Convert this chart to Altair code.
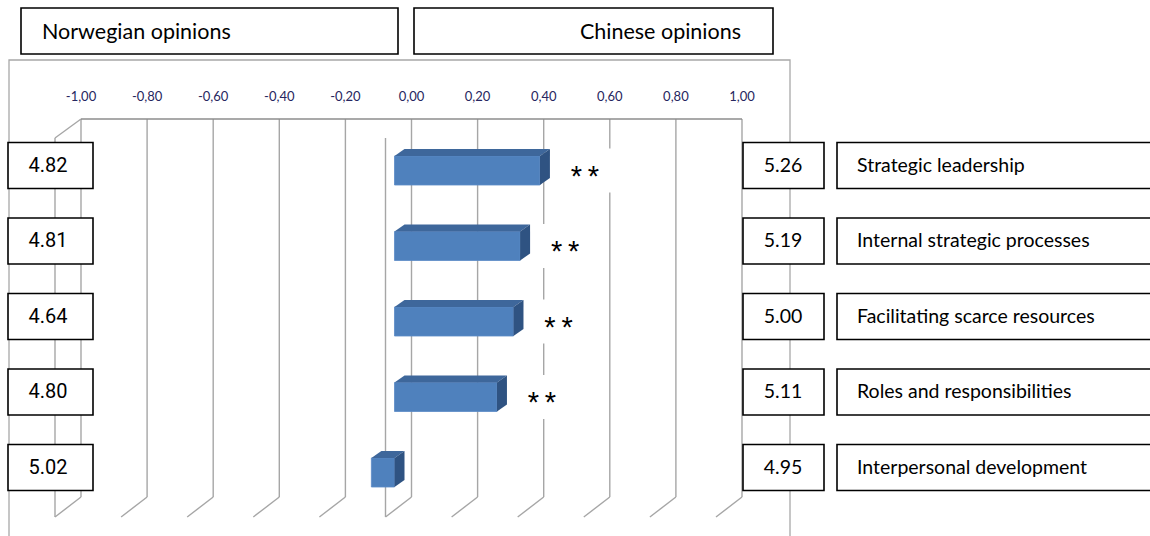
import altair as alt
import pandas as pd

# ---- data -----------------------------------------------------------------
categories = [
    "Strategic leadership",
    "Internal strategic processes",
    "Facilitating scarce resources",
    "Roles and responsibilities",
    "Interpersonal development",
]
norwegian = [4.82, 4.81, 4.64, 4.80, 5.02]
chinese = [5.26, 5.19, 5.00, 5.11, 4.95]
significance = ["*\u2009*", "*\u2009*", "*\u2009*", "*\u2009*", ""]

tick_values = [-1.0, -0.8, -0.6, -0.4, -0.2, 0.0, 0.2, 0.4, 0.6, 0.8, 1.0]
tick_labels = ["-1,00", "-0,80", "-0,60", "-0,40", "-0,20", "0,00",
               "0,20", "0,40", "0,60", "0,80", "1,00"]

# ---- layout helpers ---------------------------------------------------------
X_RANGE = [81, 742]          # back wall: -1 .. 1
Y_RANGE = [170.5, 472.5]     # row 0 .. row 4
PX = 2 / (X_RANGE[1] - X_RANGE[0])   # x units per pixel
PY = 4 / (Y_RANGE[1] - Y_RANGE[0])   # row units per pixel
FRONT = -17 * PX             # bars sit in front of the back wall
DEPTH_X, DEPTH_Y = 10 * PX, 7 * PY
HALF_H = 14.5 * PY

X = lambda f: alt.X(f, type="quantitative", axis=None,
                    scale=alt.Scale(domain=[-1, 1], range=X_RANGE, nice=False, zero=False))
Y = lambda f: alt.Y(f, type="quantitative", axis=None,
                    scale=alt.Scale(domain=[0, 4], range=Y_RANGE, nice=False, zero=False))

rows = []
for i, (c, n, z, s) in enumerate(zip(categories, norwegian, chinese, significance)):
    d = round(z - n, 2)
    rows.append(dict(cat=c, row=i, nor=f"{n:.2f}", chi=f"{z:.2f}", sig=s, diff=d,
                     lo=min(d, 0) + FRONT, hi=max(d, 0) + FRONT,
                     top=i - HALF_H, bot=i + HALF_H))
bars = pd.DataFrame(rows)

top_face = pd.concat([
    pd.DataFrame(dict(cat=bars.cat, y=bars.top, x=bars.lo, x2=bars.hi)),
    pd.DataFrame(dict(cat=bars.cat, y=bars.top - DEPTH_Y,
                      x=bars.lo + DEPTH_X, x2=bars.hi + DEPTH_X)),
])
side_face = pd.concat([
    pd.DataFrame(dict(cat=bars.cat, x=bars.hi, y=bars.bot, y2=bars.top)),
    pd.DataFrame(dict(cat=bars.cat, x=bars.hi + DEPTH_X,
                      y=bars.bot - DEPTH_Y, y2=bars.top - DEPTH_Y)),
])
stars = bars[bars.sig != ""].copy()
stars["sx"] = stars.hi + 45 * PX
stars["bx"] = stars.hi + 12 * PX
stars["bx2"] = stars.hi + 75 * PX
stars["by"] = stars.row - 22 * PY
stars["by2"] = stars.row + 22 * PY

ticks = pd.DataFrame(dict(t=tick_values, label=tick_labels))
one = pd.DataFrame(dict(a=[0]))

GRID = "#A6A6A6"
LABEL_FONT = "Lato"

# ---- frame and headings -----------------------------------------------------
frame = alt.Chart(one).mark_rect(fill="white", stroke="#A8A8A8", strokeWidth=1.3).encode(
    x=alt.value(9), x2=alt.value(790), y=alt.value(60), y2=alt.value(600))

head_df = pd.DataFrame(dict(name=["Norwegian opinions", "Chinese opinions"],
                            x0=[21, 414], x1=[398, 773]))
head_box = alt.Chart(head_df).mark_rect(fill="white", stroke="black", strokeWidth=1.6).encode(
    x=alt.X("x0:Q", scale=None), x2="x1:Q", y=alt.value(8), y2=alt.value(54))
head_nor = alt.Chart(head_df.iloc[[0]]).mark_text(
    font=LABEL_FONT, fontSize=21.5, align="left", baseline="middle", color="black").encode(
    x=alt.value(42), y=alt.value(33), text="name:N")
head_chi = alt.Chart(head_df.iloc[[1]]).mark_text(
    font=LABEL_FONT, fontSize=21.5, align="right", baseline="middle", color="black").encode(
    x=alt.value(741), y=alt.value(33), text="name:N")

# ---- 3-D walls and gridlines ------------------------------------------------
back_grid = alt.Chart(ticks).mark_rule(color=GRID, strokeWidth=1.4).encode(
    x=X("t"), y=alt.value(119), y2=alt.value(497))
floor_diag = alt.Chart(ticks).mark_rule(color=GRID, strokeWidth=1.4, x2Offset=-26).encode(
    x=X("t"), x2="t:Q", y=alt.value(497), y2=alt.value(517))
front_lines = alt.Chart(pd.DataFrame(dict(t=[-1.0, 0.0]))).mark_rule(
    color=GRID, strokeWidth=1.4, xOffset=-26).encode(
    x=X("t"), y=alt.value(138), y2=alt.value(517))
top_diag = alt.Chart(pd.DataFrame(dict(t=[-1.0]))).mark_rule(
    color=GRID, strokeWidth=1.4, x2Offset=-26).encode(
    x=X("t"), x2="t:Q", y=alt.value(119), y2=alt.value(138))
axis_line = alt.Chart(pd.DataFrame(dict(t0=[-1.0], t1=[1.0]))).mark_rule(
    color="#8C8C8C", strokeWidth=1.4).encode(
    x=X("t0"), x2="t1:Q", y=alt.value(119))
tick_text = alt.Chart(ticks).mark_text(
    font=LABEL_FONT, fontSize=13, color="#262660", baseline="middle").encode(
    x=X("t"), y=alt.value(97), text="label:N")

# ---- bars ---------------------------------------------------------------------
star_box = alt.Chart(stars).mark_rect(fill="white").encode(
    x=X("bx"), x2="bx2:Q", y=Y("by"), y2="by2:Q")
front = alt.Chart(bars).mark_rect(color="#4F81BD", stroke="#5A8AC6", strokeWidth=0.8).encode(
    x=X("lo"), x2="hi:Q", y=Y("top"), y2="bot:Q")
top = alt.Chart(top_face).mark_area(orient="horizontal", color="#3E679B").encode(
    y=Y("y"), x=X("x"), x2="x2:Q", detail="cat:N")
side = alt.Chart(side_face).mark_area(orient="vertical", color="#2F5382").encode(
    x=X("x"), y=Y("y"), y2="y2:Q", detail="cat:N")
star_text = alt.Chart(stars).mark_text(
    font="Liberation Sans", fontSize=29, color="black", baseline="middle", dy=6).encode(
    x=X("sx"), y=Y("row"), text="sig:N")

# ---- value and label boxes -------------------------------------------------
box_style = dict(fill="white", stroke="black", strokeWidth=1.6, yOffset=-28, y2Offset=18)
left_box = alt.Chart(bars).mark_rect(**box_style).encode(
    x=alt.value(8), x2=alt.value(93), y=Y("row"), y2="row:Q")
left_txt = alt.Chart(bars).mark_text(
    font="Roboto", fontSize=20, color="black", baseline="middle", dy=-5).encode(
    x=alt.value(48), y=Y("row"), text="nor:N")
right_box = alt.Chart(bars).mark_rect(**box_style).encode(
    x=alt.value(743), x2=alt.value(824), y=Y("row"), y2="row:Q")
right_txt = alt.Chart(bars).mark_text(
    font=LABEL_FONT, fontSize=19.5, color="black", baseline="middle", dy=-5).encode(
    x=alt.value(783), y=Y("row"), text="chi:N")
cat_box = alt.Chart(bars).mark_rect(**box_style).encode(
    x=alt.value(837), x2=alt.value(1170), y=Y("row"), y2="row:Q")
cat_txt = alt.Chart(bars).mark_text(
    font=LABEL_FONT, fontSize=19.5, color="black", baseline="middle", align="left", dy=-5).encode(
    x=alt.value(857), y=Y("row"), text="cat:N")

chart = alt.layer(
    frame, head_box, head_nor, head_chi,
    back_grid, floor_diag, front_lines, top_diag, axis_line, tick_text,
    star_box, front, top, side, star_text,
    left_box, left_txt, right_box, right_txt, cat_box, cat_txt,
).properties(
    width=1150, height=536,
    autosize=alt.AutoSizeParams(type="none"),
    padding=0,
).configure_view(stroke=None)

chart.save("out.html", embed_options={"renderer": "svg", "actions": False})
